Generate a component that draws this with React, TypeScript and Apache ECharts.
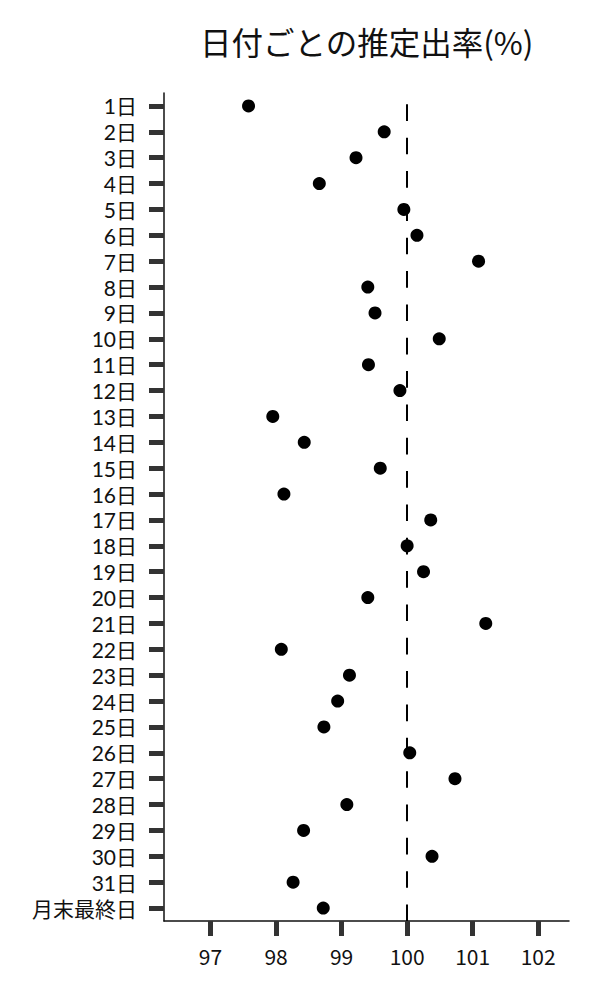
import { useEffect, useRef } from 'react';
import * as echarts from 'echarts';

// 日付カテゴリ
const days = [
  '1日', '2日', '3日', '4日', '5日', '6日', '7日', '8日', '9日', '10日',
  '11日', '12日', '13日', '14日', '15日', '16日', '17日', '18日', '19日', '20日',
  '21日', '22日', '23日', '24日', '25日', '26日', '27日', '28日', '29日', '30日',
  '31日', '月末最終日',
];

// 推定出率(%)
const rates = [
  97.58, 99.65, 99.22, 98.66, 99.95, 100.15, 101.09, 99.4, 99.51, 100.49,
  99.41, 99.89, 97.95, 98.43, 99.59, 98.12, 100.36, 100.0, 100.25, 99.4,
  101.2, 98.08, 99.12, 98.94, 98.73, 100.04, 100.73, 99.08, 98.42, 100.38,
  98.26, 98.72,
];

// x軸の目盛り
const xTicks = [97, 98, 99, 100, 101, 102];
const xMin = 96.29;
const xMax = 102.47;
const refValue = 100;

const FONT = '"Noto Sans CJK JP", "Noto Sans", sans-serif';
// y軸ラベルは行間の詰まったラテン書体を先頭に（漢字は CJK にフォールバック）
const Y_FONT = 'Lato, "Noto Sans CJK JP", sans-serif';

export default function App() {
  const chartRef = useRef<HTMLDivElement>(null);

  useEffect(() => {
    document.body.style.margin = '0';
    if (!chartRef.current) return;
    const chart = echarts.init(chartRef.current, null, { renderer: 'svg' });

    const option: echarts.EChartsOption = {
      animation: false,
      backgroundColor: '#fff',
      textStyle: { fontFamily: FONT },
      title: {
        text: '日付ごとの推定出率(%)',
        left: 195,
        top: 20,
        textStyle: {
          fontFamily: FONT,
          fontSize: 31.5,
          fontWeight: 'normal',
          color: '#111',
        },
      },
      grid: {
        left: 164,
        right: 31,
        top: 93,
        bottom: 79,
        containLabel: false,
      },
      xAxis: {
        type: 'value',
        min: xMin,
        max: xMax,
        axisLine: { show: true, lineStyle: { color: '#111', width: 1.5 } },
        axisTick: {
          show: true,
          length: 15,
          customValues: xTicks,
          lineStyle: { color: '#333', width: 5 },
        },
        axisLabel: {
          customValues: xTicks,
          margin: 24,
          fontSize: 21,
          lineHeight: 22,
          color: '#111',
          fontFamily: FONT,
        },
        splitLine: { show: false },
      },
      yAxis: {
        type: 'category',
        data: days,
        inverse: true,
        boundaryGap: true,
        axisLine: { show: true, lineStyle: { color: '#111', width: 1.5 } },
        axisTick: {
          show: true,
          interval: 0,
          alignWithLabel: true,
          length: 15,
          lineStyle: { color: '#333', width: 5 },
        },
        axisLabel: {
          interval: 0,
          margin: 27,
          fontSize: 21,
          lineHeight: 22,
          color: '#111',
          fontFamily: Y_FONT,
        },
        splitLine: { show: false },
      },
      series: [
        {
          type: 'scatter',
          data: rates.map((v, i) => [v, days[i]]),
          symbol: 'circle',
          symbolSize: 13,
          itemStyle: { color: '#000', opacity: 1 },
          markLine: {
            silent: true,
            symbol: 'none',
            label: { show: false },
            lineStyle: {
              color: '#000',
              width: 2,
              type: [16.67, 16.67],
              dashOffset: 22.3,
            },
            data: [{ xAxis: refValue }],
          },
        },
      ],
    };

    chart.setOption(option);
    return () => {
      chart.dispose();
    };
  }, []);

  return <div ref={chartRef} style={{ width: 600, height: 1000 }} />;
}
